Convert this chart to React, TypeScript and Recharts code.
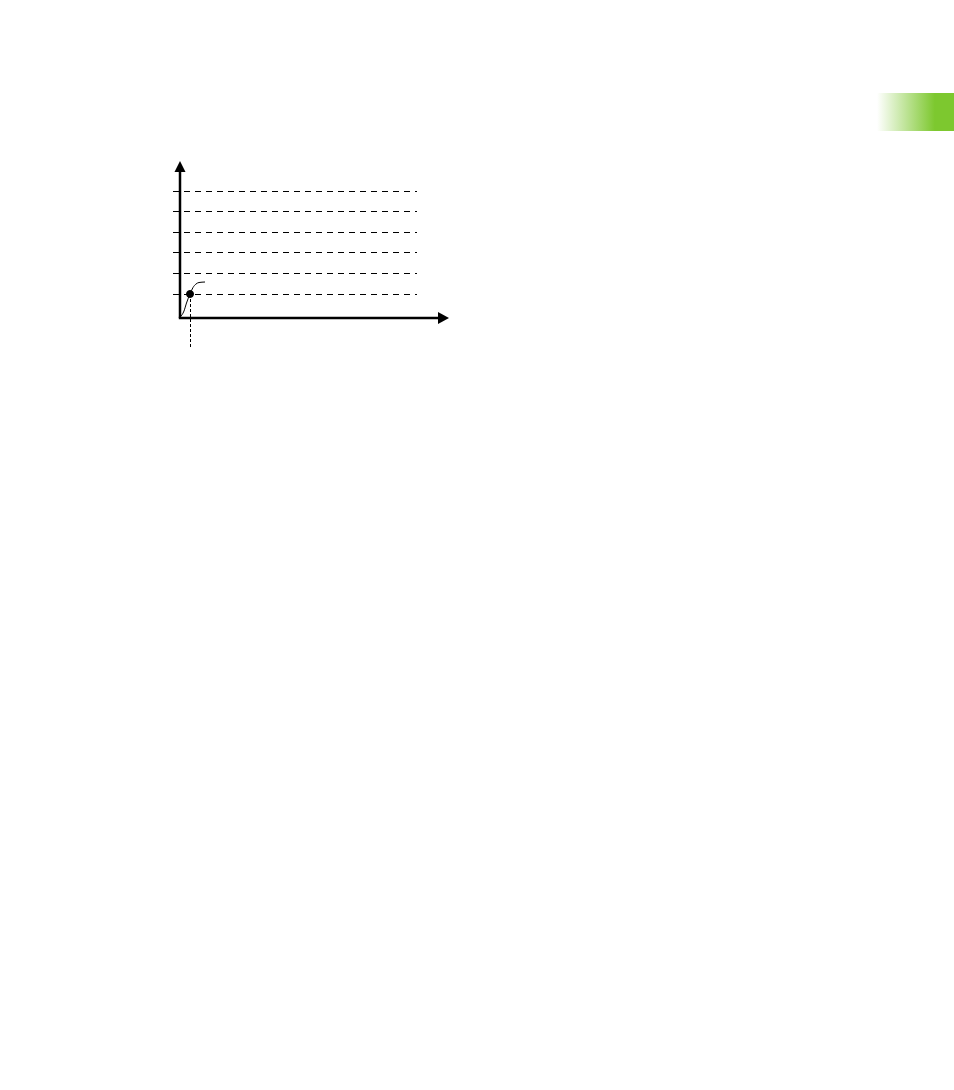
import { ComposedChart, Line, XAxis, YAxis, ReferenceLine, ReferenceDot } from 'recharts'

// values are in pixels measured from the origin of the sketch
const levels = [23.5, 44.5, 65.5, 85.5, 106.5, 126.5]
const levelStart = -7
const levelEnd = 237

const curve = [
  { x: 0, y: 1 },
  { x: 4, y: 7 },
  { x: 6.5, y: 15 },
  { x: 10, y: 24 },
  { x: 13, y: 30.5 },
  { x: 16, y: 34 },
  { x: 19, y: 35.5 },
  { x: 25, y: 36 },
]

const marker = { x: 10, y: 24 }
const markerDrop = -30

const xAxisEnd = 269
const yAxisEnd = 157

const arrowUp = (p: any) => (
  <polygon points={`${p.cx},${p.cy} ${p.cx - 5.5},${p.cy + 11} ${p.cx + 5.5},${p.cy + 11}`} fill="#000" />
)

const arrowRight = (p: any) => (
  <polygon points={`${p.cx},${p.cy} ${p.cx - 11},${p.cy - 6} ${p.cx - 11},${p.cy + 6}`} fill="#000" />
)

function SketchChart() {
  return (
    <div style={{ position: 'absolute', left: 160, top: 150 }}>
      <ComposedChart width={300} height={210} data={curve} margin={{ top: 0, right: 0, bottom: 0, left: 0 }}>
        <XAxis type="number" dataKey="x" domain={[-20, 280]} allowDataOverflow hide />
        <YAxis type="number" domain={[-42, 168]} allowDataOverflow hide />
        {levels.map((v) => (
          <ReferenceLine
            key={v}
            segment={[{ x: levelStart, y: v }, { x: levelEnd, y: v }]}
            stroke="#000"
            strokeWidth={1}
            strokeDasharray="6 5"
          />
        ))}
        <ReferenceLine
          segment={[{ x: marker.x + 0.5, y: marker.y }, { x: marker.x + 0.5, y: markerDrop }]}
          stroke="#000"
          strokeWidth={1}
          strokeDasharray="3 2"
        />
        <ReferenceLine segment={[{ x: 0, y: 0 }, { x: 0, y: yAxisEnd - 10 }]} stroke="#000" strokeWidth={2.5} />
        <ReferenceLine segment={[{ x: -1.2, y: 0 }, { x: xAxisEnd - 10, y: 0 }]} stroke="#000" strokeWidth={2.5} />
        <ReferenceDot x={0} y={yAxisEnd} shape={arrowUp} />
        <ReferenceDot x={xAxisEnd} y={0} shape={arrowRight} />
        <Line
          type="monotone"
          dataKey="y"
          stroke="#000"
          strokeWidth={1}
          dot={false}
          isAnimationActive={false}
        />
        <ReferenceDot x={marker.x} y={marker.y} r={3.5} fill="#000" stroke="#000" />
      </ComposedChart>
    </div>
  )
}

export default function App() {
  return (
    <div style={{ position: 'absolute', left: 0, top: 0, width: 954, height: 1090 }}>
      <div
        style={{
          position: 'absolute',
          left: 877,
          top: 93,
          width: 77,
          height: 38,
          background: 'linear-gradient(to right, #ffffff 0%, #7dc82f 75%, #7dc82f 100%)',
        }}
      />
      <SketchChart />
    </div>
  )
}
